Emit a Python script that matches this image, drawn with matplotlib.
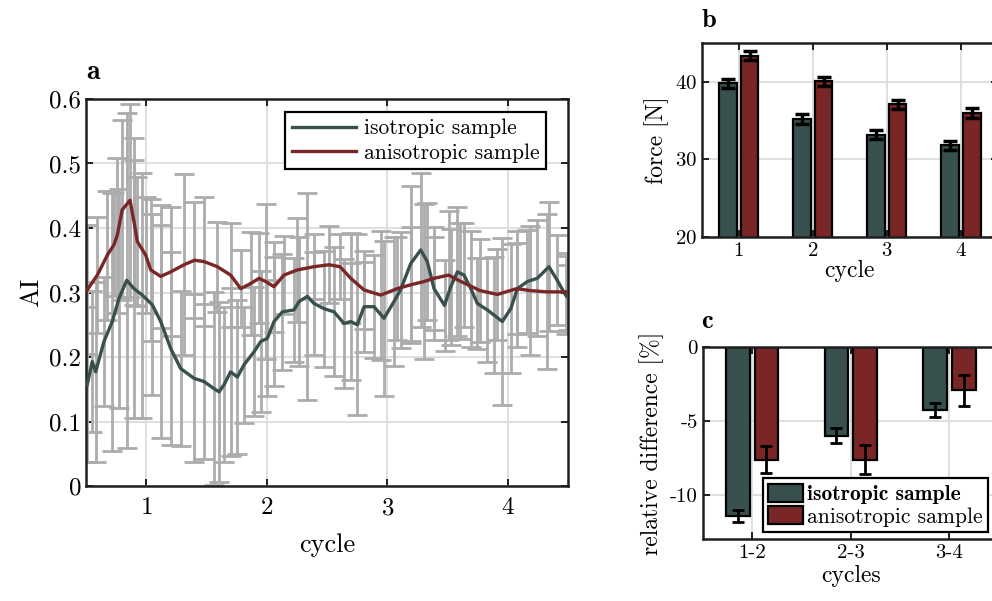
import numpy as np
import matplotlib
matplotlib.use("Agg")
from matplotlib import pyplot as plt

plt.rcParams['font.family'] = 'cmr10'
plt.rcParams['mathtext.fontset'] = 'cm'
plt.rcParams['axes.unicode_minus'] = False
plt.rcParams['axes.formatter.use_mathtext'] = True

teal = '#38504e'
red = '#7a2626'
grey = '#acacac'

# panel a: isotropic sample (smoothed AI) and its spread
iso_x = [0.51, 0.552, 0.58, 0.649, 0.718, 0.774, 0.838, 0.898, 0.967, 1.05,
         1.12, 1.203, 1.286, 1.396, 1.479, 1.562, 1.604, 1.645, 1.70, 1.756,
         1.811, 1.894, 1.95, 2.005, 2.06, 2.13, 2.226, 2.268, 2.337, 2.392,
         2.475, 2.558, 2.641, 2.697, 2.752, 2.807, 2.89, 2.973, 3.056, 3.11,
         3.195, 3.278, 3.332, 3.388, 3.475, 3.527, 3.582, 3.637, 3.693, 3.748,
         3.83, 3.886, 3.955, 4.025, 4.08, 4.162, 4.245, 4.342, 4.41, 4.48, 4.5]
iso_y = [0.157, 0.193, 0.177, 0.224, 0.255, 0.291, 0.319, 0.306, 0.296, 0.281,
         0.255, 0.213, 0.182, 0.167, 0.162, 0.151, 0.146, 0.157, 0.177, 0.169,
         0.188, 0.208, 0.224, 0.229, 0.255, 0.270, 0.273, 0.286, 0.294, 0.283,
         0.275, 0.270, 0.252, 0.255, 0.250, 0.278, 0.278, 0.260, 0.286, 0.304,
         0.345, 0.366, 0.348, 0.306, 0.280, 0.309, 0.332, 0.327, 0.306, 0.283,
         0.273, 0.265, 0.255, 0.275, 0.306, 0.317, 0.322, 0.340, 0.319, 0.296, 0.292]
iso_err = [0.12, 0.11, 0.14, 0.10, 0.20, 0.17, 0.26, 0.20, 0.19, 0.14,
           0.18, 0.15, 0.12, 0.13, 0.12, 0.15, 0.14, 0.12, 0.13, 0.12,
           0.09, 0.10, 0.11, 0.09, 0.10, 0.09, 0.08, 0.10, 0.16, 0.08,
           0.09, 0.10, 0.10, 0.09, 0.14, 0.07, 0.08, 0.12, 0.10, 0.09,
           0.12, 0.12, 0.09, 0.08, 0.07, 0.09, 0.10, 0.08, 0.09, 0.07,
           0.08, 0.09, 0.13, 0.10, 0.07, 0.08, 0.09, 0.10, 0.07, 0.06, 0.05]

# panel a: anisotropic sample
ani_x = [0.51, 0.594, 0.677, 0.732, 0.76, 0.80, 0.865, 0.898, 0.926, 0.995,
         1.037, 1.12, 1.203, 1.313, 1.40, 1.479, 1.59, 1.70, 1.784, 1.867,
         1.936, 1.991, 2.06, 2.143, 2.254, 2.392, 2.517, 2.608, 2.697, 2.807,
         2.946, 3.083, 3.195, 3.305, 3.388, 3.51, 3.60, 3.77, 3.914, 4.074,
         4.185, 4.323, 4.49]
ani_y = [0.304, 0.327, 0.358, 0.374, 0.389, 0.428, 0.443, 0.410, 0.379, 0.358,
         0.335, 0.325, 0.332, 0.343, 0.350, 0.348, 0.340, 0.327, 0.306, 0.314,
         0.322, 0.317, 0.309, 0.327, 0.335, 0.340, 0.343, 0.340, 0.322, 0.304,
         0.296, 0.306, 0.312, 0.317, 0.322, 0.327, 0.318, 0.303, 0.297, 0.306,
         0.303, 0.301, 0.301]
ani_err = [0.10, 0.09, 0.10, 0.08, 0.12, 0.14, 0.15, 0.13, 0.10, 0.09,
           0.11, 0.08, 0.10, 0.14, 0.09, 0.10, 0.07, 0.08, 0.06, 0.08,
           0.07, 0.12, 0.07, 0.06, 0.08, 0.05, 0.06, 0.05, 0.07, 0.06,
           0.10, 0.08, 0.09, 0.12, 0.08, 0.10, 0.09, 0.08, 0.07, 0.09,
           0.10, 0.12, 0.06]

# panel b: force per cycle
cycles = [1, 2, 3, 4]
force_iso = [39.8, 35.2, 33.2, 31.8]
force_iso_err = [0.6, 0.6, 0.6, 0.6]
force_ani = [43.4, 40.1, 37.1, 36.0]
force_ani_err = [0.6, 0.6, 0.6, 0.6]

# panel c: relative difference between cycles
pairs = ['1-2', '2-3', '3-4']
rel_iso = [-11.4, -6.0, -4.25]
rel_iso_err = [0.4, 0.5, 0.5]
rel_ani = [-7.6, -7.6, -2.9]
rel_ani_err = [0.9, 1.0, 1.05]

fig = plt.figure(figsize=(9.92, 6.01), dpi=100)


def style_axes(ax, ticksize):
    ax.grid(True, color='#dcdcdc', linewidth=1.3)
    ax.set_axisbelow(True)
    for s in ax.spines.values():
        s.set_linewidth(1.8)
        s.set_color('#1e1e1e')
    ax.tick_params(direction='in', length=5, width=1.4, top=True, right=True,
                   labelsize=ticksize, color='#1e1e1e')


# ---- panel a
ax = fig.add_axes([0.0867, 0.1913, 0.4859, 0.644])
ax.errorbar(iso_x, iso_y, yerr=iso_err, fmt='none', ecolor=grey,
            elinewidth=2.0, capsize=7, capthick=2.0, zorder=2)
ax.errorbar(ani_x, ani_y, yerr=ani_err, fmt='none', ecolor=grey,
            elinewidth=2.0, capsize=7, capthick=2.0, zorder=2)
ax.plot(iso_x, iso_y, color=teal, lw=2.4, label='isotropic sample', zorder=3)
ax.plot(ani_x, ani_y, color=red, lw=2.4, label='anisotropic sample', zorder=3)
ax.set_xlim(0.5, 4.5)
ax.set_ylim(0, 0.6)
ax.set_xticks([1, 2, 3, 4])
ax.set_yticks([0, 0.1, 0.2, 0.3, 0.4, 0.5, 0.6])
ax.set_yticklabels(['0', '0.1', '0.2', '0.3', '0.4', '0.5', '0.6'])
style_axes(ax, 18)
ax.tick_params(axis='x', pad=8)
ax.set_xlabel('cycle', fontsize=19, labelpad=10)
ax.set_ylabel('AI', fontsize=19)
leg = ax.legend(loc='upper right', bbox_to_anchor=(0.954, 0.966), borderaxespad=0,
                fontsize=15.5, handlelength=3.0, handletextpad=0.35, borderpad=0.3,
                labelspacing=0.25, fancybox=False, framealpha=1, edgecolor='black')
leg.get_frame().set_linewidth(1.6)
fig.text(0.087, 0.868, 'a', fontsize=20, fontfamily='cmb10')

# ---- panel b
w = 0.24
off = 0.145
axb = fig.add_axes([0.7074, 0.6062, 0.2986, 0.3218])
cx = np.array(cycles)
axb.bar(cx - off, force_iso, w, color=teal, edgecolor='black', linewidth=1.6, zorder=2)
axb.bar(cx + off, force_ani, w, color=red, edgecolor='black', linewidth=1.6, zorder=2)
axb.errorbar(cx - off, force_iso, yerr=force_iso_err, fmt='none', ecolor='black',
             elinewidth=2.5, capsize=5, capthick=2.5, zorder=3)
axb.errorbar(cx + off, force_ani, yerr=force_ani_err, fmt='none', ecolor='black',
             elinewidth=2.5, capsize=5, capthick=2.5, zorder=3)
axb.set_xlim(0.5, 4.5)
axb.set_ylim(20, 45)
axb.set_xticks(cycles)
axb.set_yticks([20, 30, 40])
style_axes(axb, 15)
axb.set_xlabel('cycle', fontsize=17, labelpad=0)
axb.set_ylabel('force [N]', fontsize=17)
fig.text(0.707, 0.955, 'b', fontsize=19, fontfamily='cmb10')

# ---- panel c
axc = fig.add_axes([0.7084, 0.1027, 0.2985, 0.3195])
px = np.arange(1, len(pairs) + 1)
axc.bar(px - off, rel_iso, w, color=teal, edgecolor='black', linewidth=1.6,
        zorder=2, label='isotropic sample')
axc.bar(px + off, rel_ani, w, color=red, edgecolor='black', linewidth=1.6,
        zorder=2, label='anisotropic sample')
axc.errorbar(px - off, rel_iso, yerr=rel_iso_err, fmt='none', ecolor='black',
             elinewidth=2, capsize=4.5, capthick=2, zorder=3)
axc.errorbar(px + off, rel_ani, yerr=rel_ani_err, fmt='none', ecolor='black',
             elinewidth=2, capsize=4.5, capthick=2, zorder=3)
axc.set_xlim(0.5, 3.5)
axc.set_ylim(-13, 0)
axc.set_xticks(px)
axc.set_xticklabels(pairs)
axc.set_yticks([-10, -5, 0])
axc.set_yticklabels(['-10', '-5', '0'])
style_axes(axc, 15)
axc.set_xlabel('cycles', fontsize=17, labelpad=2)
axc.set_ylabel('relative difference [%]', fontsize=17)
legc = axc.legend(loc='lower right', bbox_to_anchor=(0.963, 0.038), borderaxespad=0,
                  fontsize=15.5, handlelength=1.6, handleheight=0.9, handletextpad=0.2,
                  fancybox=False, framealpha=1, edgecolor='black', borderpad=0.25,
                  labelspacing=0.1)
legc.get_frame().set_linewidth(1.6)
legc.get_texts()[0].set_fontfamily('cmb10')
fig.text(0.707, 0.455, 'c', fontsize=19, fontfamily='cmb10')

fig.savefig('out.png', dpi=100)
